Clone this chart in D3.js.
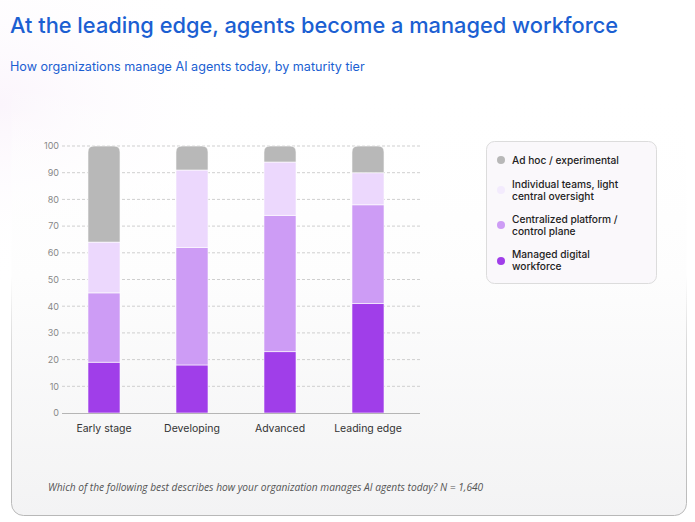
<!DOCTYPE html>
<html><head><meta charset="utf-8">
<script src="https://cdn.jsdelivr.net/npm/d3@7"></script>
<style>
html,body{margin:0;padding:0;background:#fff;}
svg{display:block;}
</style></head>
<body>
<svg id="chart" width="695" height="522"></svg>
<script>
const categories = ["Early stage", "Developing", "Advanced", "Leading edge"];
const seriesNames = ["Managed digital workforce", "Centralized platform / control plane", "Individual teams, light central oversight", "Ad hoc / experimental"];
const managed = [19, 18, 23, 41];
const centralized = [26, 44, 51, 37];
const individual = [19, 29, 20, 12];
const adhoc = [36, 9, 6, 10];
const yTicks = [0, 10, 20, 30, 40, 50, 60, 70, 80, 90, 100];
const legendLabels = [["Ad hoc / experimental"], ["Individual teams, light", "central oversight"], ["Centralized platform /", "control plane"], ["Managed digital", "workforce"]];
const colors = ["#a03ee9", "#cd9cf5", "#ecd8fd", "#b8b8b8"];
const legendDotColors = ["#b8b8b8", "#f3ebfd", "#cd9cf5", "#a03ee9"];

const svg = d3.select("#chart");
const defs = svg.append("defs");

// faint corner glow
const rg = defs.append("radialGradient").attr("id","glow").attr("cx","0").attr("cy","0.2").attr("r","0.35");
rg.append("stop").attr("offset","0").attr("stop-color","#fbf5fc").attr("stop-opacity",1);
rg.append("stop").attr("offset","1").attr("stop-color","#ffffff").attr("stop-opacity",0);
svg.append("rect").attr("x",0).attr("y",0).attr("width",695).attr("height",522).attr("fill","url(#glow)");

// card gradient
const cg = defs.append("linearGradient").attr("id","cardFill").attr("x1",0).attr("y1",0).attr("x2",0).attr("y2",1);
cg.append("stop").attr("offset","0").attr("stop-color","#ffffff").attr("stop-opacity",0);
cg.append("stop").attr("offset","0.45").attr("stop-color","#fdfdfd").attr("stop-opacity",1);
cg.append("stop").attr("offset","1").attr("stop-color","#f3f3f4").attr("stop-opacity",1);
const sg = defs.append("linearGradient").attr("id","cardStroke").attr("x1",0).attr("y1",0).attr("x2",0).attr("y2",1);
sg.append("stop").attr("offset","0").attr("stop-color","#c4c4c4").attr("stop-opacity",0);
sg.append("stop").attr("offset","0.45").attr("stop-color","#c4c4c4").attr("stop-opacity",0);
sg.append("stop").attr("offset","0.6").attr("stop-color","#c4c4c4").attr("stop-opacity",0.6);
sg.append("stop").attr("offset","1").attr("stop-color","#b8b8b8").attr("stop-opacity",1);
svg.append("rect").attr("x",11.5).attr("y",80.5).attr("width",675).attr("height",435).attr("rx",12)
  .attr("fill","url(#cardFill)").attr("stroke","url(#cardStroke)").attr("stroke-width",1);

// titles
svg.append("text").attr("x",10).attr("y",33).attr("fill","#1b5fd2")
  .style("font-family","Inter, 'Noto Sans', sans-serif").style("font-size","21.8px").style("font-weight",500)
  .text("At the leading edge, agents become a managed workforce");
svg.append("text").attr("x",10).attr("y",71).attr("fill","#1b5fd2")
  .style("font-family","Inter, 'Noto Sans', sans-serif").style("font-size","12.6px")
  .text("How organizations manage AI agents today, by maturity tier");

// scales
const x = d3.scaleBand().domain(categories).range([60, 412]).paddingInner(0.636).paddingOuter(0.318);
const y = d3.scaleLinear().domain([0, 100]).range([413, 146]);

// grid
const g = svg.append("g");
g.selectAll("line.grid").data(yTicks.filter(d=>d>0)).join("line")
  .attr("x1",62).attr("x2",420).attr("y1",d=>y(d)).attr("y2",d=>y(d))
  .attr("stroke","#cfcfcf").attr("stroke-width",1).attr("stroke-dasharray","3,2");

// y axis labels
const yAxis = d3.axisLeft(y).tickValues(yTicks).tickSize(0).tickPadding(3);
const ya = svg.append("g").attr("transform","translate(62,0)").call(yAxis);
ya.select(".domain").remove();
ya.selectAll("text").attr("fill","#888").style("font-family","Inter, sans-serif").style("font-size","9px");

// stacked data
const rows = categories.map((c,i)=>({cat:c, s0:managed[i], s1:centralized[i], s2:individual[i], s3:adhoc[i]}));
const stack = d3.stack().keys(["s0","s1","s2","s3"]);
const layers = stack(rows);

const r = 6;
layers.forEach((layer, li) => {
  svg.append("g").selectAll("path").data(layer).join("path")
    .attr("fill", colors[li])
    .attr("d", d => {
      const x0 = x(d.data.cat), w = x.bandwidth();
      const yt = y(d[1]), yb = y(d[0]);
      if (li === 3) {
        return `M${x0},${yb}V${yt+r}Q${x0},${yt} ${x0+r},${yt}H${x0+w-r}Q${x0+w},${yt} ${x0+w},${yt+r}V${yb}Z`;
      }
      return `M${x0},${yb}V${yt}H${x0+w}V${yb}Z`;
    })
    .attr("stroke","#ffffff").attr("stroke-width",0.6);
});

// x axis
const xAxis = d3.axisBottom(x).tickSize(0).tickPadding(12);
const xa = svg.append("g").attr("transform","translate(0,413)").call(xAxis);
xa.select(".domain").remove();
svg.append("line").attr("x1",62).attr("x2",420).attr("y1",413.5).attr("y2",413.5).attr("stroke","#b5b5b5").attr("stroke-width",1.2);
xa.selectAll("text").attr("fill","#333").style("font-family","Inter, sans-serif").style("font-size","10.5px");

// legend
const lg = svg.append("g");
lg.append("rect").attr("x",486.5).attr("y",141.5).attr("width",170).attr("height",142).attr("rx",8)
  .attr("fill","#faf8fb").attr("stroke","#dcdcdc");
const legY = [164, 188, 223, 258];
const dotY = [160, 190, 225, 261];
legendLabels.forEach((lines, i) => {
  lg.append("circle").attr("cx",501).attr("cy",dotY[i]).attr("r",4).attr("fill",legendDotColors[i]);
  lines.forEach((ln, j) => {
    lg.append("text").attr("x",512).attr("y",legY[i] + j * 12).attr("fill","#222")
      .style("font-family","Inter, sans-serif").style("font-size","10.2px").style("font-weight",500)
      .text(ln);
  });
});

// footnote
svg.append("text").attr("x",48).attr("y",491).attr("fill","#555")
  .style("font-family","'Open Sans', sans-serif").style("font-size","10.2px").style("font-style","italic")
  .text("Which of the following best describes how your organization manages AI agents today? N = 1,640");
</script>
</body></html>
